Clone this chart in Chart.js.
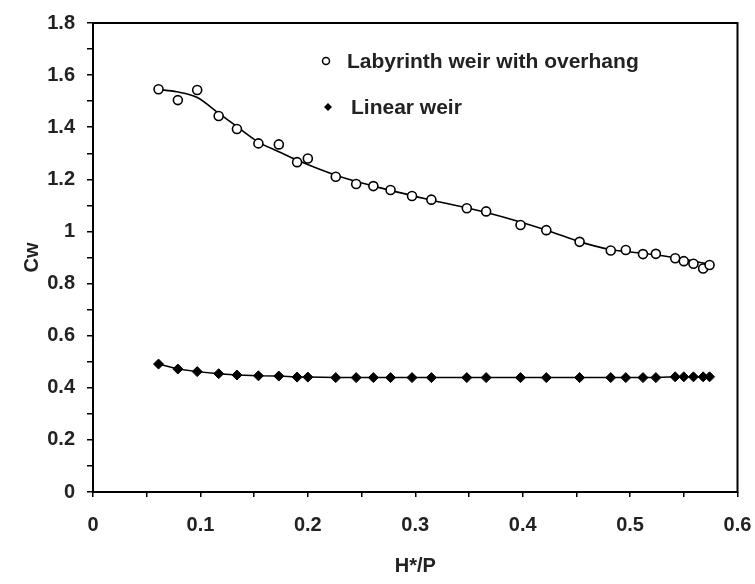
<!DOCTYPE html>
<html lang="en">
<head>
<meta charset="UTF-8">
<title>Cw vs H*/P</title>
<style>
    html, body {
        margin: 0;
        padding: 0;
        background: #fff;
    }
    #chart-container {
        width: 755px;
        height: 584px;
    }
</style>
</head>
<body>
<div id="chart-container">
    <canvas id="cwChart"></canvas>
</div>

<script src="https://cdn.jsdelivr.net/npm/chart.js"></script>
<script>
    // H*/P values (same for both weirs)
    const hp = [0.061, 0.079, 0.097, 0.117, 0.134, 0.154, 0.173, 0.190, 0.200, 0.226,
                0.245, 0.261, 0.277, 0.297, 0.315, 0.348, 0.366, 0.398, 0.422, 0.453,
                0.482, 0.496, 0.512, 0.524, 0.542, 0.550, 0.559, 0.568, 0.574];
    const cwLabyrinth = [1.546, 1.504, 1.543, 1.443, 1.393, 1.338, 1.334, 1.266, 1.280, 1.210,
                         1.182, 1.174, 1.159, 1.136, 1.122, 1.089, 1.077, 1.025, 1.005, 0.960,
                         0.927, 0.929, 0.913, 0.914, 0.897, 0.886, 0.876, 0.858, 0.871];
    const cwLinear = [0.491, 0.472, 0.462, 0.454, 0.449, 0.446, 0.445, 0.441, 0.441, 0.439,
                      0.439, 0.439, 0.439, 0.439, 0.439, 0.439, 0.439, 0.439, 0.439, 0.439,
                      0.439, 0.439, 0.439, 0.439, 0.442, 0.442, 0.442, 0.442, 0.442];
    // trend curve through the labyrinth points
    const fitX = [0.0605, 0.078, 0.0966, 0.1173, 0.1341, 0.1536, 0.1729, 0.1897, 0.226, 0.2614,
                  0.3154, 0.3662, 0.4224, 0.4534, 0.4814, 0.5121, 0.5422, 0.5738];
    const fitY = [1.545, 1.536, 1.515, 1.453, 1.402, 1.344, 1.306, 1.274, 1.216, 1.174,
                  1.120, 1.073, 1.005, 0.960, 0.931, 0.916, 0.899, 0.874];

    const labelFont = "'Liberation Sans', Arial, sans-serif";
    const textColor = '#222';

    function pts(xs, ys) {
        return xs.map((x, i) => ({ x: x, y: ys[i] }));
    }

    // box round the plot area
    const framePlugin = {
        id: 'frame',
        afterDatasetsDraw(chart) {
            const a = chart.chartArea;
            const ctx = chart.ctx;
            ctx.save();
            ctx.strokeStyle = '#000';
            ctx.lineWidth = 2;
            ctx.strokeRect(a.left, a.top, a.right - a.left, a.bottom - a.top);
            ctx.restore();
        }
    };

    // legend inside the plot, as in the figure
    const legendPlugin = {
        id: 'insideLegend',
        afterDraw(chart) {
            const ctx = chart.ctx;
            const ds = chart.data.datasets;
            ctx.save();
            ctx.font = 'bold 21px ' + labelFont;
            ctx.fillStyle = textColor;
            ctx.textBaseline = 'alphabetic';
            ctx.textAlign = 'left';

            // open circle
            ctx.beginPath();
            ctx.arc(326, 61, 3.5, 0, Math.PI * 2);
            ctx.lineWidth = 1.5;
            ctx.strokeStyle = '#000';
            ctx.stroke();
            ctx.fillText(ds[0].label, 347, 68);

            // filled diamond
            ctx.beginPath();
            ctx.moveTo(328, 103);
            ctx.lineTo(332, 107);
            ctx.lineTo(328, 111);
            ctx.lineTo(324, 107);
            ctx.closePath();
            ctx.fillStyle = '#000';
            ctx.fill();
            ctx.fillStyle = textColor;
            ctx.fillText(ds[1].label, 351, 114);
            ctx.restore();
        }
    };

    function tenths(v) {
        return Math.round(v * 10);
    }

    const tickFont = { family: labelFont, size: 20, weight: 'bold' };

    const ctx = document.getElementById('cwChart').getContext('2d');
    const chart = new Chart(ctx, {
        type: 'scatter',
        data: {
            datasets: [{
                label: 'Labyrinth weir with overhang',
                data: pts(hp, cwLabyrinth),
                showLine: false,
                pointStyle: 'circle',
                pointRadius: 4.5,
                pointBackgroundColor: '#fff',
                pointBorderColor: '#000',
                pointBorderWidth: 1.6
            }, {
                label: 'Linear weir',
                data: pts(hp, cwLinear),
                showLine: true,
                borderColor: '#000',
                borderWidth: 1.5,
                pointStyle: 'rectRot',
                pointRadius: 5,
                pointBackgroundColor: '#000',
                pointBorderColor: '#000',
                pointBorderWidth: 1
            }, {
                label: 'fit',
                data: pts(fitX, fitY),
                showLine: true,
                borderColor: '#000',
                borderWidth: 1.6,
                pointRadius: 0,
                cubicInterpolationMode: 'monotone'
            }]
        },
        options: {
            responsive: true,
            maintainAspectRatio: false,
            animation: false,
            layout: {
                padding: { top: 23, right: 17.5, left: 0, bottom: 0 }
            },
            plugins: {
                legend: { display: false },
                tooltip: { enabled: false }
            },
            scales: {
                x: {
                    type: 'linear',
                    min: 0,
                    max: 0.6,
                    afterFit(scale) {
                        scale.height = 92;
                        scale.paddingLeft = 0;
                        scale.paddingRight = 0;
                    },
                    border: { display: false },
                    grid: {
                        drawOnChartArea: false,
                        drawTicks: true,
                        tickLength: 5,
                        color: '#000',
                        lineWidth: 1.5
                    },
                    ticks: {
                        stepSize: 0.05,
                        autoSkip: false,
                        maxRotation: 0,
                        padding: 16,
                        color: textColor,
                        font: tickFont,
                        callback: function(value) {
                            const t = tenths(value);
                            if (Math.abs(value * 10 - t) > 1e-6) return '';
                            return String(t / 10);
                        }
                    },
                    title: {
                        display: true,
                        text: 'H*/P',
                        color: textColor,
                        font: tickFont,
                        padding: { top: 0, bottom: 6 }
                    }
                },
                y: {
                    type: 'linear',
                    min: 0,
                    max: 1.8,
                    afterFit(scale) {
                        scale.width = 93;
                        scale.paddingTop = 0;
                        scale.paddingBottom = 0;
                    },
                    border: { display: false },
                    grid: {
                        drawOnChartArea: false,
                        drawTicks: true,
                        tickLength: 6,
                        color: '#000',
                        lineWidth: 1.5
                    },
                    ticks: {
                        stepSize: 0.1,
                        autoSkip: false,
                        padding: 12,
                        color: textColor,
                        font: tickFont,
                        callback: function(value) {
                            const t = tenths(value);
                            if (t % 2 !== 0) return '';
                            return String(t / 10);
                        }
                    },
                    title: {
                        display: true,
                        text: 'Cw',
                        color: textColor,
                        font: tickFont,
                        padding: { top: 20, bottom: 0 }
                    }
                }
            }
        },
        plugins: [framePlugin, legendPlugin]
    });
</script>
</body>
</html>
